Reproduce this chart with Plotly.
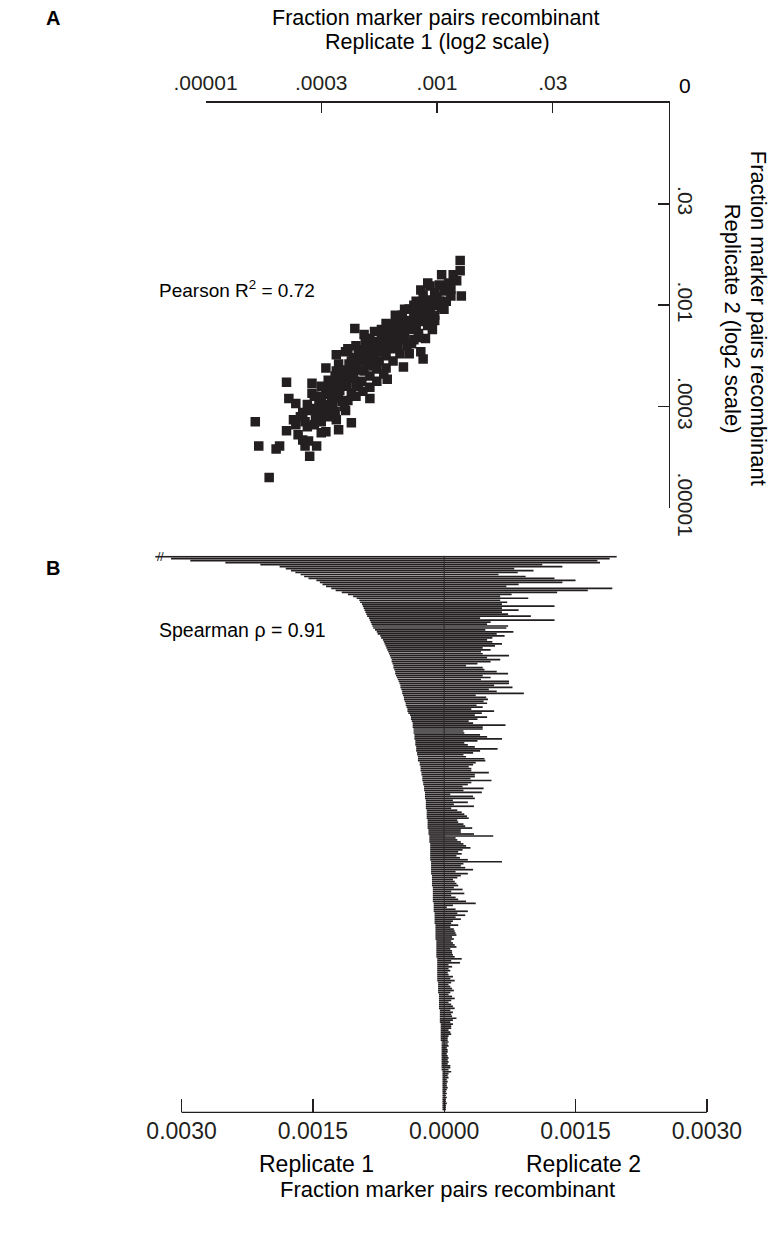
import plotly.graph_objects as go

W, H = 773, 1239
INK = "#231f20"
FONT = "Liberation Sans, Arial, sans-serif"

# ---------------- Panel A data (log2-scale tick units) ----------------
rep1_log = [2.20, 2.20, 2.04, 2.17, 2.21, 1.94, 1.86, 1.98, 2.09, 2.06, 2.12, 2.00, 1.88, 1.81, 1.76,
            1.92, 1.96, 1.90, 1.73, 1.59, 1.67, 1.54, 1.48, 1.42, 1.29, 1.37, 1.86, 1.88, 1.71, 1.62,
            1.54, 1.46, 1.37, 1.32, 1.23, 1.21, 1.13, 1.26, 1.15, 1.04, 1.13, 1.26, 1.37, 1.48, 1.57,
            1.42, 1.32, 1.21, 1.09, 1.26, 1.15, 1.04, 1.42, 1.23, 1.09, 0.99, 1.21, 0.92, 0.92, 0.70,
            0.72, 0.78, 0.84, 0.90, 1.01, 1.13, 1.26, 1.15, 1.04, 0.96, 0.86, 0.76, 0.70, 0.80, 0.84,
            0.89, 0.96, 1.00, 0.90, 0.86, 0.43, 0.46, 0.61, 0.64, 0.55,
            1.50, 1.55, 1.60, 1.65, 1.70, 1.75, 1.80, 1.85, 1.90, 1.95, 2.00, 1.62, 1.68, 1.72, 1.78,
            1.82, 1.86, 1.90, 1.94, 1.98, 1.44, 1.40, 1.35, 1.30, 1.25, 1.20, 1.15, 1.10, 1.05, 1.00,
            1.30, 1.38, 1.45, 1.50, 1.56, 1.60, 1.66, 1.42, 1.35, 1.30, 1.18, 1.10, 1.05, 0.95, 0.98,
            1.08, 1.70, 1.76, 1.82, 1.66, 1.58, 1.52, 1.46, 2.02, 2.06, 2.10, 1.92, 2.14, 1.74, 1.80,
            1.84, 1.76, 1.56,
            1.12, 1.18, 1.24, 1.28, 1.34, 1.40, 1.46, 1.52, 1.58, 1.64, 1.70, 1.74, 1.80, 1.86, 1.92,
            1.96, 2.02, 1.34, 1.40, 1.46, 1.52, 1.58, 1.64, 1.70, 1.22, 1.28, 1.16, 1.10, 1.02, 0.96,
            1.06, 1.00, 0.94, 0.88, 0.82, 0.78, 0.88, 0.94, 1.00, 1.08, 1.12, 1.20, 1.30, 1.36, 1.48,
            1.54, 1.62, 1.68, 1.78, 1.84, 1.92, 1.98, 2.04, 2.08, 1.88, 1.80, 1.72, 1.64, 1.56, 2.12]
rep2_log = [2.44, 2.34, 2.30, 2.24, 2.09, 2.19, 2.15, 2.12, 2.19, 1.96, 2.09, 2.00, 2.02, 1.93, 1.96,
            1.90, 1.76, 1.67, 1.83, 1.81, 1.73, 1.71, 1.64, 1.67, 1.77, 1.71, 1.54, 1.47, 1.39, 1.57,
            1.54, 1.47, 1.56, 1.51, 1.57, 1.54, 1.51, 1.45, 1.42, 1.38, 1.35, 1.32, 1.35, 1.37, 1.27,
            1.19, 1.22, 1.25, 1.22, 1.13, 1.09, 1.13, 1.08, 1.06, 1.03, 0.99, 0.96, 1.23, 1.13, 1.24,
            1.08, 1.03, 0.94, 0.96, 0.93, 0.87, 0.84, 0.77, 0.75, 0.87, 0.85, 0.87, 0.76, 0.72, 0.67,
            0.66, 0.61, 0.74, 0.51, 0.61, 0.85, 0.61, 0.58, 0.61, 0.30,
            1.60, 1.62, 1.68, 1.75, 1.78, 1.85, 1.88, 1.95, 2.00, 2.05, 2.08, 1.72, 1.66, 1.70, 1.76,
            1.80, 1.84, 1.88, 1.95, 1.90, 1.55, 1.50, 1.45, 1.40, 1.38, 1.30, 1.25, 1.20, 1.18, 1.10,
            1.60, 1.62, 1.40, 1.45, 1.50, 1.58, 1.60, 1.30, 1.25, 1.20, 1.05, 1.00, 0.95, 0.90, 1.05,
            1.12, 1.90, 1.96, 2.04, 1.84, 1.78, 1.76, 1.74, 2.20, 2.14, 2.22, 2.22, 2.30, 1.60, 1.66,
            1.72, 1.52, 1.38,
            1.30, 1.36, 1.42, 1.48, 1.52, 1.58, 1.62, 1.66, 1.70, 1.70, 1.74, 1.80, 1.82, 1.90, 1.98,
            2.02, 2.04, 1.36, 1.42, 1.50, 1.55, 1.60, 1.66, 1.68, 1.20, 1.28, 1.16, 1.08, 1.02, 0.98,
            1.26, 1.20, 1.10, 1.02, 0.90, 0.82, 0.80, 0.82, 0.85, 0.90, 0.95, 1.00, 1.10, 1.15, 1.25,
            1.32, 1.45, 1.52, 1.62, 1.68, 1.80, 1.85, 1.98, 2.04, 2.10, 2.00, 1.96, 1.90, 1.82, 2.16]

a_tickvals = [0, 1, 2, 3]
a_ticktext = [".00001", ".0003", ".001", ".03"]
a_corner_label = "0"

# ---------------- Panel B data (units of 1e-5) ----------------
rep1_e5 = [330, 312, 290, 250, 210, 188, 181, 175,
           170, 164, 160, 155,
           146, 142, 139, 135, 129,
           124, 117, 110, 104,
           100, 97, 96,
           94, 93, 92, 91, 90, 89, 88,
           86, 85, 84, 83, 82, 81, 79,
           77, 76, 73, 72, 70, 69,
           68, 67, 66, 65, 64, 63, 62,
           61, 60, 60, 59, 58, 58, 57, 56, 56, 55,
           54, 53, 52, 51, 50, 50, 49,
           48, 48, 47, 46, 46, 45, 44, 44, 43, 42, 42, 41, 39, 38, 38, 37,
           36, 36, 36, 35, 35, 35, 34, 34, 34, 33, 33, 33, 32, 32, 32, 31, 31,
           30, 30, 30, 28, 28, 27, 27, 27, 26, 26, 25, 25, 25, 24, 24, 23, 23,
           23, 22, 22, 22, 22, 21, 21, 21, 21, 21, 20, 20, 20, 20, 20, 19, 19, 19, 19, 19, 18, 18, 18,
           17, 17, 17, 17, 16, 16, 16, 16, 16, 16, 16, 16, 16, 15, 15, 15, 15,
           15, 15, 15, 14, 14, 14, 14, 14, 14, 13, 13, 13, 13, 13, 13, 13, 13,
           12, 12, 12, 12, 12, 11, 11, 11, 11, 11, 11, 10, 10, 10, 10, 10,
           10, 10, 10, 9, 9, 9, 9, 9, 9, 9, 9, 9, 8, 8, 8, 8, 8, 8, 8, 8, 8, 8, 8, 8,
           7, 7, 7, 7, 7, 7, 6, 6, 6, 6, 6, 6, 6, 6, 5, 5, 5, 5,
           5, 5, 5, 4, 4, 4, 4, 4, 4, 4, 4, 4, 3, 3, 3, 3, 3,
           3, 3, 3, 3, 3, 3, 3, 3, 3, 3, 2, 2, 2, 2, 2, 2, 2, 2, 2, 2, 2, 2, 2, 2, 2, 2, 2, 2, 2, 2]
rep2_e5 = [197, 189, 175, 178, 112, 135, 80, 102, 84, 62, 93, 126, 150, 135, 85, 71,
           192, 164, 129, 77, 64, 96, 64, 72, 66, 126, 66, 85, 66, 73, 99, 41,
           126, 53, 49, 73, 71, 47, 79, 60, 69, 55, 49, 55, 66, 58, 44, 53,
           42, 44, 74, 49, 64, 53, 38, 25, 44, 46, 60, 73, 44, 53, 42, 74,
           74, 57, 78, 51, 60, 91, 36, 48, 50, 45, 49, 37, 44, 31, 57, 43,
           35, 49, 38, 28, 33, 70, 44, 44, 22, 23, 41, 49, 66, 38, 23, 27,
           35, 61, 41, 33, 22, 25, 46, 47, 36, 33, 28, 31, 31, 51, 35, 35,
           30, 54, 31, 27, 21, 45, 22, 43, 7, 33, 35, 10, 27, 11, 34, 8,
           15, 20, 23, 26, 28, 15, 16, 22, 24, 32, 19, 19,
           34, 56, 13, 15, 19, 22, 25, 30, 21, 16, 20, 14, 18, 27, 66, 22,
           19, 24, 33, 13, 27, 19, 15, 10, 12, 14, 16, 11, 21, 8, 23, 8,
           13, 16, 25, 36, 10, 3, 13, 27, 15, 24, 13, 19, 10, 8, 16, 7,
           11, 12, 13, 14, 9, 11, 8, 10, 12, 14, 7, 9, 9, 10, 12, 20,
           8, 18, 5, 9, 5, 7, 4,
           5, 10, 7, 12, 8, 5, 7, 9, 11, 7, 5, 9, 12, 8, 5, 8, 10, 12, 7, 10,
           8, 9, 14, 10, 7, 10, 8, 8, 5, 7, 8, 5, 4, 4, 5, 4, 5, 3, 4, 4,
           3, 4, 5, 4, 5, 4, 7, 7, 5, 8, 5, 4, 5, 3, 4, 3, 3, 4, 3, 2,
           3, 2, 3, 2, 2, 3, 2, 2, 2]

b_tickvals = [-0.0030, -0.0015, 0.0, 0.0015, 0.0030]
b_ticktext = ["0.0030", "0.0015", "0.0000", "0.0015", "0.0030"]

n = min(len(rep1_e5), len(rep2_e5))
rows = list(range(n))
rep1_vals = [-v * 1e-5 for v in rep1_e5[:n]]
rep2_vals = [v * 1e-5 for v in rep2_e5[:n]]


def px(x):
    return x / W


def py(y):
    return 1 - y / H


fig = go.Figure()

fig.add_trace(go.Scatter(
    x=rep1_log, y=rep2_log, mode="markers", xaxis="x", yaxis="y",
    marker=dict(symbol="square", size=9.5, color=INK, line=dict(width=0)),
    hoverinfo="skip", showlegend=False))

for vals in (rep1_vals, rep2_vals):
    fig.add_trace(go.Bar(
        x=vals, y=rows, orientation="h", xaxis="x2", yaxis="y2",
        width=0.86, marker=dict(color=INK, line=dict(width=0)),
        hoverinfo="skip", showlegend=False))

# x-range of panel B so that 0.0015 spans 137 px around centre px 430
b_dom = (120, 740)
scale = 137 / 0.0015
b_range = [(b_dom[0] - 430) / scale, (b_dom[1] - 430) / scale]

axis_common = dict(showgrid=False, zeroline=False, showline=True, linecolor=INK, linewidth=1.4,
                   ticks="inside", tickcolor=INK, tickwidth=1.4,
                   tickfont=dict(family=FONT, size=21, color=INK))

fig.update_layout(
    width=W, height=H, margin=dict(l=0, r=0, t=0, b=0),
    paper_bgcolor="white", plot_bgcolor="rgba(0,0,0,0)",
    barmode="overlay", bargap=0.1,
    xaxis=dict(domain=[px(181), px(664)], range=[0, 4], side="top", anchor="y",
               tickvals=a_tickvals, ticktext=a_ticktext, ticklen=10, ticklabelstandoff=3,
               **axis_common),
    yaxis=dict(domain=[py(520), py(105)], range=[0, 4], side="right", anchor="x",
               tickvals=a_tickvals, ticktext=a_ticktext, ticklen=11, tickangle=90,
               **axis_common),
    xaxis2=dict(domain=[px(b_dom[0]), px(b_dom[1])], range=b_range, anchor="y2",
                showgrid=False, zeroline=False, showline=False,
                ticks="inside", ticklen=13, tickcolor=INK, tickwidth=1.4,
                tickvals=b_tickvals, ticktext=b_ticktext, ticklabelstandoff=3,
                tickfont=dict(family=FONT, size=23, color=INK)),
    yaxis2=dict(domain=[py(1139), py(569)], range=[n + 0.5, -0.5], anchor="x2",
                visible=False, showgrid=False, zeroline=False),
    shapes=[
        dict(type="line", xref="x2", yref="paper", x0=b_tickvals[0], x1=b_tickvals[-1],
             y0=py(1139), y1=py(1139), line=dict(color=INK, width=1.4)),
        dict(type="line", xref="x2", yref="y2", x0=0, x1=0, y0=-0.5, y1=n - 0.5,
             line=dict(color=INK, width=1)),
    ],
)


def note(text, x, y, size=21, angle=0, xanchor="center", bold=False, **kw):
    fig.add_annotation(text=f"<b>{text}</b>" if bold else text, x=px(x), y=py(y),
                       xref="paper", yref="paper", showarrow=False, textangle=angle,
                       xanchor=xanchor, yanchor="middle",
                       font=dict(family=FONT, size=size, color="#000000"), **kw)


note("A", 12, 18, size=20, xanchor="left", bold=True)
note("B", 12, 582, size=20, xanchor="left", bold=True)
note("Fraction marker pairs recombinant", 421, 18, size=21.5)
note("Replicate 1 (log2 scale)", 423, 43, size=21.5)
note(a_corner_label, 681, 88)
note("Fraction marker pairs recombinant", 758, 326, size=22, angle=90)
note("Replicate 2 (log2 scale)", 731, 326, size=22, angle=90)
note("Pearson R<sup>2</sup> = 0.72", 130, 296, size=19, xanchor="left")
note("Spearman ρ = 0.91", 130, 645, size=19.5, xanchor="left")
note("Replicate 1", 297, 1192, size=23)
note("Replicate 2", 575, 1192, size=23)
note("Fraction marker pairs recombinant", 433, 1218, size=22)

fig.add_annotation(text="//", x=-0.00324, y=0, xref="x2", yref="y2", showarrow=False,
                   font=dict(family=FONT, size=12, color=INK))

fig.write_html("out.html", config={"staticPlot": True})
